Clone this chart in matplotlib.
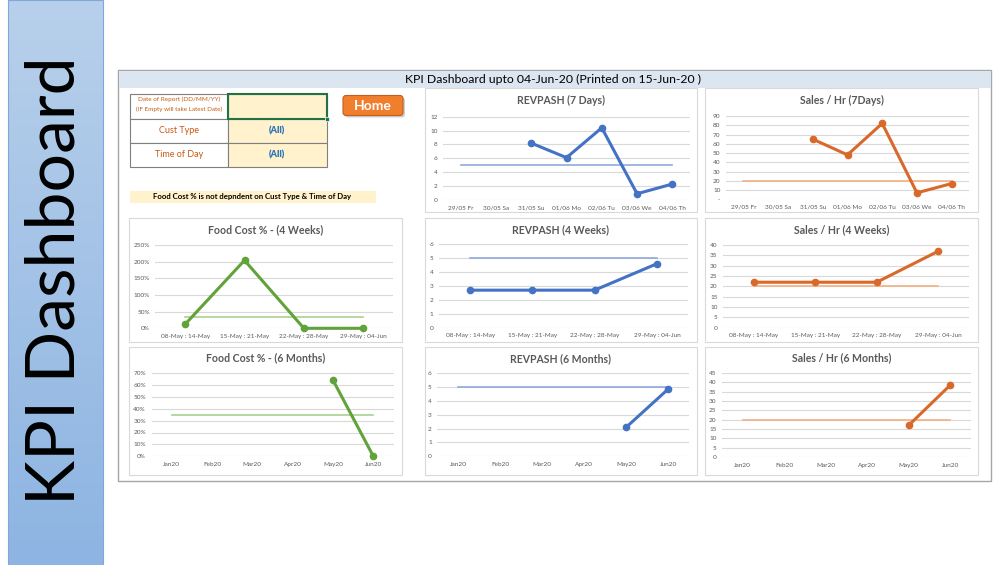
import numpy as np
import matplotlib
matplotlib.use("Agg")
import matplotlib.pyplot as plt
from matplotlib.patches import Rectangle, FancyBboxPatch
from matplotlib.ticker import FuncFormatter

plt.rcParams['font.family'] = ['Lato', 'DejaVu Sans']

W, H = 1005, 565

# ---------------- data ----------------
days7 = ["29/05 Fr", "30/05 Sa", "31/05 Su", "01/06 Mo", "02/06 Tu", "03/06 We", "04/06 Th"]
weeks4 = ["08-May : 14-May", "15-May : 21-May", "22-May : 28-May", "29-May : 04-Jun"]
months6 = ["Jan20", "Feb20", "Mar20", "Apr20", "May20", "Jun20"]

revpash_7d = [None, None, 8.2, 6.1, 10.4, 0.9, 2.3]
revpash_7d_target = 5
sales_hr_7d = [None, None, 65, 48, 82, 7, 17]
sales_hr_7d_target = 20

food_cost_4w = [0.12, 2.04, 0.0, 0.0]
food_cost_4w_target = 0.35
revpash_4w = [2.7, 2.7, 2.7, 4.6]
revpash_4w_target = 5
sales_hr_4w = [22, 22, 22, 37]
sales_hr_4w_target = 20

food_cost_6m = [None, None, None, None, 0.64, 0.0]
food_cost_6m_target = 0.35
revpash_6m = [None, None, None, None, 2.1, 4.85]
revpash_6m_target = 5
sales_hr_6m = [None, None, None, None, 17, 38.5]
sales_hr_6m_target = 20

BLUE, BLUE_T = '#4472c4', '#8faadc'
ORANGE, ORANGE_T = '#d9692a', '#f4b183'
GREEN, GREEN_T = '#62a23a', '#a9d18e'

fig = plt.figure(figsize=(W / 100, H / 100), dpi=100)
bg = fig.add_axes([0, 0, 1, 1])
bg.set_xlim(0, W)
bg.set_ylim(H, 0)
bg.axis('off')

# ---------------- left banner ----------------
grad = np.linspace(0, 1, 256).reshape(-1, 1)
c_top = np.array([0xb8, 0xd0, 0xeb]) / 255
c_bot = np.array([0x8d, 0xb4, 0xe2]) / 255
img = c_top[None, None, :] * (1 - grad[:, :, None]) + c_bot[None, None, :] * grad[:, :, None]
bg.imshow(img, extent=(8, 103, H, 0), aspect='auto', zorder=1)
bg.add_patch(Rectangle((8, 0), 95, H, fc='none', ec='#7fa7d9', lw=0.8, zorder=2))
bg.text(56, 281, "KPI Dashboard", rotation=90, fontsize=49, ha='center', va='center',
        color='black', zorder=3)

# ---------------- dashboard frame ----------------
bg.add_patch(Rectangle((118, 70), 873, 411, fc='white', ec='#a6a6a6', lw=1.0, zorder=1))
bg.add_patch(Rectangle((118.5, 70.5), 872, 17.5, fc='#dce6f1', ec='none', zorder=2))
bg.text(553, 79, "KPI Dashboard upto 04-Jun-20 (Printed on 15-Jun-20 )", ha='center', va='center',
        fontsize=8.8, color='black', zorder=3)

# ---------------- input table ----------------
tx0, tx1, tx2 = 129.5, 227.5, 326.5
rows = [93.5, 118.5, 142.5, 166.5]
for i in range(3):
    bg.add_patch(Rectangle((tx0, rows[i]), tx1 - tx0, rows[i + 1] - rows[i], fc='white',
                           ec='#7f7f7f', lw=0.8, zorder=2))
    bg.add_patch(Rectangle((tx1, rows[i]), tx2 - tx1, rows[i + 1] - rows[i], fc='#fff2cc',
                           ec='#7f7f7f', lw=0.8, zorder=2))
bg.add_patch(Rectangle((tx1, rows[0]), tx2 - tx1, rows[1] - rows[0], fc='none',
                       ec='#217346', lw=1.5, zorder=3))
bg.add_patch(Rectangle((tx2 - 2, rows[1] - 2), 4, 4, fc='#217346', ec='white', lw=0.5, zorder=4))
bg.text(179, 99.5, "Date of Report (DD/MM/YY)", ha='center', va='center', fontsize=4.6,
        color='#c55a11', zorder=3)
bg.text(179, 109.5, "(IF Empty will take Latest Date)", ha='center', va='center', fontsize=4.5,
        color='#c55a11', zorder=3)
bg.text(179, 130.5, "Cust Type", ha='center', va='center', fontsize=6.5, color='#c55a11', zorder=3)
bg.text(179, 154.5, "Time of Day", ha='center', va='center', fontsize=6.5, color='#c55a11', zorder=3)
bg.text(277, 130.5, "(All)", ha='center', va='center', fontsize=6.5, fontweight='heavy',
        color='#2e75b6', zorder=3)
bg.text(277, 154.5, "(All)", ha='center', va='center', fontsize=6.5, fontweight='heavy',
        color='#2e75b6', zorder=3)

# Home button
bg.add_patch(FancyBboxPatch((345, 97.5), 60, 20, boxstyle="round,pad=0,rounding_size=3",
                            fc='#a0a0a0', ec='none', alpha=0.5, zorder=2))
bg.add_patch(FancyBboxPatch((343, 95.5), 60, 20, boxstyle="round,pad=0,rounding_size=3",
                            fc='#f07e2c', ec='#c0601c', lw=0.8, zorder=3))
bg.text(373, 105.8, "Home", ha='center', va='center', fontsize=10, fontweight='bold',
        color='white', zorder=4)

# note
bg.add_patch(Rectangle((129.5, 190.5), 246, 12.5, fc='#fff2cc', ec='none', zorder=2))
bg.text(252.5, 197, "Food Cost % is not depndent on Cust Type & Time of Day", ha='center',
        va='center', fontsize=5.6, fontweight='bold', color='black', zorder=3)


# ---------------- charts ----------------
def fmt_int(v, pos):
    return f"{int(round(v))}"


def fmt_dash(v, pos):
    return "-" if abs(v) < 1e-9 else f"{int(round(v))}"


def fmt_pct(v, pos):
    return f"{int(round(v * 100))}%"


def chart(panel, title, title_y, plot, cats, vals, target, ymax, ystep, color, tcolor, fmt):
    x0, y0, x1, y1 = panel
    bg.add_patch(Rectangle((x0, y0), x1 - x0, y1 - y0, fc='white', ec='#d9d9d9', lw=0.8, zorder=2))
    bg.text((x0 + x1) / 2, title_y, title, ha='center', va='center', fontsize=7.6,
            fontweight='bold', color='#595959', zorder=3)
    px0, py0, px1, py1 = plot
    ax = fig.add_axes([px0 / W, 1 - py1 / H, (px1 - px0) / W, (py1 - py0) / H])
    n = len(cats)
    xs = np.arange(n)
    v = np.array([np.nan if a is None else a for a in vals], dtype=float)
    ax.plot([0, n - 1], [target, target], color=tcolor, lw=1.2, zorder=2, clip_on=False)
    ax.plot(xs, v, color=color, lw=2.2, marker='o', ms=4.5, zorder=3, clip_on=False)
    ax.set_xlim(-0.5, n - 0.5)
    ax.set_ylim(0, ymax)
    ax.set_yticks(np.arange(0, ymax + ystep / 2, ystep))
    ax.yaxis.set_major_formatter(FuncFormatter(fmt))
    ax.set_xticks(xs)
    ax.set_xticklabels(cats)
    ax.grid(axis='y', color='#d9d9d9', lw=0.8)
    ax.set_axisbelow(True)
    for s in ax.spines.values():
        s.set_visible(False)
    ax.tick_params(axis='both', length=0, labelsize=4.6, labelcolor='#595959')
    ax.tick_params(axis='x', pad=4)
    ax.tick_params(axis='y', pad=4)
    ax.patch.set_alpha(0)
    return ax


chart((425, 88, 697, 212), "REVPASH (7 Days)", 100.5, (443, 116.7, 690, 200),
      days7, revpash_7d, revpash_7d_target, 12, 2, BLUE, BLUE_T, fmt_int)
chart((705, 88, 978, 212), "Sales / Hr (7Days)", 100.5, (726, 116, 969, 199.3),
      days7, sales_hr_7d, sales_hr_7d_target, 90, 10, ORANGE, ORANGE_T, fmt_dash)

chart((129, 218, 402, 342), "Food Cost % - (4 Weeks)", 230, (155.4, 245, 393, 328.3),
      weeks4, food_cost_4w, food_cost_4w_target, 2.5, 0.5, GREEN, GREEN_T, fmt_pct)
chart((425, 218, 697, 342), "REVPASH (4 Weeks)", 230, (439, 244.3, 688, 327.7),
      weeks4, revpash_4w, revpash_4w_target, 6, 1, BLUE, BLUE_T, fmt_int)
chart((705, 218, 978, 342), "Sales / Hr (4 Weeks)", 230, (723, 245, 969, 327.7),
      weeks4, sales_hr_4w, sales_hr_4w_target, 40, 5, ORANGE, ORANGE_T, fmt_int)

chart((129, 347, 402, 475), "Food Cost % - (6 Months)", 358, (151.5, 373, 393.5, 456.3),
      months6, food_cost_6m, food_cost_6m_target, 0.7, 0.1, GREEN, GREEN_T, fmt_pct)
chart((425, 347, 697, 475), "REVPASH (6 Months)", 358.5, (437.3, 373, 689.3, 456.3),
      months6, revpash_6m, revpash_6m_target, 6, 1, BLUE, BLUE_T, fmt_int)
chart((705, 347, 978, 475), "Sales / Hr (6 Months)", 358, (722, 373, 971, 457),
      months6, sales_hr_6m, sales_hr_6m_target, 45, 5, ORANGE, ORANGE_T, fmt_int)

fig.savefig("out.png", dpi=100)
